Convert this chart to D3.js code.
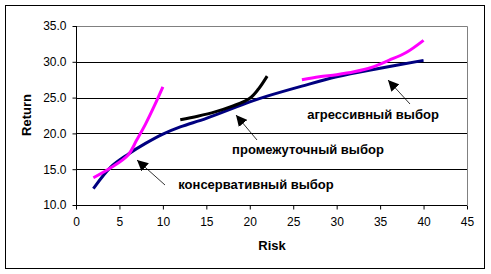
<!DOCTYPE html>
<html>
<head>
<meta charset="utf-8">
<script src="https://cdn.jsdelivr.net/npm/d3@7"></script>
<style>
  body { margin: 0; background: #fff; }
  text { font-family: Arial, "Liberation Sans", sans-serif; }
  .axis text { font-size: 12px; fill: #000; }
  .axis path, .axis line { stroke: #000; }
</style>
</head>
<body>
<svg class="chart"></svg>
<script>
// data
const frontierRisk = [2, 4, 6, 8, 10, 12, 15, 20, 22, 26, 30, 35, 40];
const frontierReturn = [12.3, 15.3, 17.1, 18.6, 19.9, 20.9, 22.1, 24.4, 25.2, 26.6, 27.9, 29.1, 30.2];
const consRisk = [2, 4, 6, 7, 8, 9, 10];
const consReturn = [13.8, 15.2, 17.0, 19.1, 21.3, 23.8, 26.5];
const midRisk = [12, 14, 16, 18, 20, 21, 22];
const midReturn = [21.9, 22.4, 23.0, 23.8, 24.9, 26.2, 28.0];
const aggrRisk = [26, 28, 30, 32, 34, 36, 38, 40];
const aggrReturn = [27.5, 27.9, 28.2, 28.6, 29.2, 30.2, 31.3, 33.0];
const xTicks = [0, 5, 10, 15, 20, 25, 30, 35, 40, 45];
const yTicks = [10, 15, 20, 25, 30, 35];
const labels = ['агрессивный выбор', 'промежуточный выбор', 'консервативный выбор'];

const width = 491;
const height = 274;
const plotL = 76, plotT = 26, plotR = 467, plotB = 205;

const x = d3.scaleLinear().domain([0, 45]).range([plotL, plotR]);
const y = d3.scaleLinear().domain([10, 35]).range([plotB, plotT]);

const svg = d3.select('.chart')
  .attr('width', width)
  .attr('height', height);

svg.append('rect')
  .attr('x', 5.5).attr('y', 5.5)
  .attr('width', 479).attr('height', 263)
  .attr('fill', '#fff').attr('stroke', '#000');

// gridlines
svg.append('g')
  .selectAll('line')
  .data(yTicks.slice(1, -1))
  .enter()
  .append('line')
  .attr('x1', plotL).attr('x2', plotR)
  .attr('y1', (d) => Math.round(y(d)) + 0.5)
  .attr('y2', (d) => Math.round(y(d)) + 0.5)
  .attr('stroke', '#000');

// plot frame top/right in grey
svg.append('path')
  .attr('d', `M${plotL},${plotT + 0.5}H${plotR + 0.5}V${plotB}`)
  .attr('fill', 'none')
  .attr('stroke', '#808080');

const xAxis = d3.axisBottom(x).tickValues(xTicks).tickSize(4).tickPadding(8).tickFormat(d3.format('d'));
const yAxis = d3.axisLeft(y).tickValues(yTicks).tickSize(4).tickPadding(6).tickFormat(d3.format('.1f'));

svg.append('g')
  .attr('class', 'axis')
  .attr('transform', 'translate(0,' + (plotB + 0.5) + ')')
  .call(xAxis)
  .call((g) => g.select('.domain').attr('d', `M${plotL},0H${plotR}`));

svg.append('g')
  .attr('class', 'axis')
  .attr('transform', 'translate(' + (plotL + 0.5) + ',0)')
  .call(yAxis)
  .call((g) => g.select('.domain').attr('d', `M0,${plotT}V${plotB}`));

svg.append('text')
  .attr('x', (plotL + plotR) / 2 + 0.5)
  .attr('y', 250)
  .attr('text-anchor', 'middle')
  .attr('font-size', 13)
  .attr('font-weight', 'bold')
  .text('Risk');

svg.append('text')
  .attr('transform', 'translate(31,' + 115 + ') rotate(-90)')
  .attr('text-anchor', 'middle')
  .attr('font-size', 13)
  .attr('font-weight', 'bold')
  .text('Return');

const line = d3.line()
  .x((d) => x(d[0]))
  .y((d) => y(d[1]))
  .curve(d3.curveCatmullRom);

const series = [
  { xs: frontierRisk, ys: frontierReturn, color: '#000080' },
  { xs: consRisk, ys: consReturn, color: '#ff00ff' },
  { xs: midRisk, ys: midReturn, color: '#000' },
  { xs: aggrRisk, ys: aggrReturn, color: '#ff00ff' }
];

svg.selectAll('.series')
  .data(series)
  .enter()
  .append('path')
  .attr('class', 'series')
  .attr('fill', 'none')
  .attr('stroke', (d) => d.color)
  .attr('stroke-width', 3)
  .attr('d', (d) => line(d.xs.map((v, i) => [v, d.ys[i]])));

// annotations
svg.append('defs').append('marker')
  .attr('id', 'head')
  .attr('viewBox', '0 0 10 10')
  .attr('refX', 10).attr('refY', 5)
  .attr('markerWidth', 11).attr('markerHeight', 11)
  .attr('markerUnits', 'userSpaceOnUse')
  .attr('orient', 'auto')
  .append('path')
  .attr('d', 'M0,0L10,5L0,10Z')
  .attr('fill', '#000');

const notes = [
  { text: labels[0], tx: 373, ty: 119, x1: 410, y1: 104, x2: 388, y2: 80 },
  { text: labels[1], tx: 308, ty: 154, x1: 257, y1: 140, x2: 236, y2: 115 },
  { text: labels[2], tx: 256, ty: 189, x1: 165, y1: 185, x2: 137, y2: 160 }
];

svg.selectAll('.arrow')
  .data(notes)
  .enter()
  .append('line')
  .attr('class', 'arrow')
  .attr('x1', (d) => d.x1).attr('y1', (d) => d.y1)
  .attr('x2', (d) => d.x2).attr('y2', (d) => d.y2)
  .attr('stroke', '#000')
  .attr('stroke-width', 0.8)
  .attr('marker-end', 'url(#head)');

svg.selectAll('.note')
  .data(notes)
  .enter()
  .append('text')
  .attr('class', 'note')
  .attr('x', (d) => d.tx).attr('y', (d) => d.ty)
  .attr('text-anchor', 'middle')
  .attr('font-size', 13)
  .attr('font-weight', 'bold')
  .text((d) => d.text);
</script>
</body>
</html>
